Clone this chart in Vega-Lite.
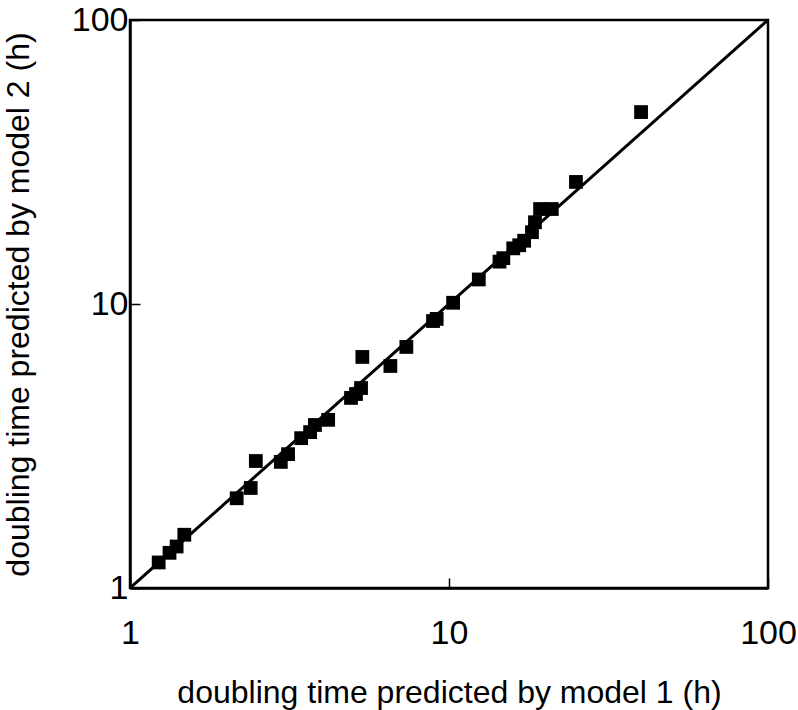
{
  "$schema": "https://vega.github.io/schema/vega-lite/v6.json",
  "width": 638,
  "height": 568,
  "autosize": "none",
  "padding": {"left": 130, "top": 20, "right": 30, "bottom": 122},
  "background": "white",
  "config": {
    "view": {"stroke": "black", "strokeWidth": 2.5},
    "axis": {
      "labelFont": "Liberation Sans",
      "titleFont": "Liberation Sans",
      "labelFontSize": 34,
      "titleFontSize": 32,
      "labelColor": "black",
      "titleColor": "black",
      "titleFontWeight": "normal",
      "domainColor": "black",
      "domainWidth": 2.5,
      "tickColor": "black",
      "tickWidth": 1.5,
      "grid": false
    }
  },
  "datasets": {
    "pts": [
      {"m1": 1.23, "m2": 1.23},
      {"m1": 1.33, "m2": 1.33},
      {"m1": 1.40, "m2": 1.40},
      {"m1": 1.48, "m2": 1.54},
      {"m1": 2.16, "m2": 2.07},
      {"m1": 2.39, "m2": 2.25},
      {"m1": 2.48, "m2": 2.80},
      {"m1": 2.97, "m2": 2.78},
      {"m1": 3.13, "m2": 2.96},
      {"m1": 3.44, "m2": 3.37},
      {"m1": 3.67, "m2": 3.54},
      {"m1": 3.80, "m2": 3.75},
      {"m1": 4.18, "m2": 3.91},
      {"m1": 4.93, "m2": 4.67},
      {"m1": 5.11, "m2": 4.82},
      {"m1": 5.30, "m2": 5.06},
      {"m1": 5.35, "m2": 6.51},
      {"m1": 6.55, "m2": 6.05},
      {"m1": 7.35, "m2": 7.06},
      {"m1": 8.91, "m2": 8.71},
      {"m1": 9.15, "m2": 8.86},
      {"m1": 10.3, "m2": 10.1},
      {"m1": 12.4, "m2": 12.2},
      {"m1": 14.4, "m2": 14.1},
      {"m1": 14.8, "m2": 14.5},
      {"m1": 15.9, "m2": 15.7},
      {"m1": 16.6, "m2": 16.1},
      {"m1": 17.2, "m2": 16.7},
      {"m1": 18.2, "m2": 17.9},
      {"m1": 18.6, "m2": 19.4},
      {"m1": 19.3, "m2": 21.6},
      {"m1": 21.0, "m2": 21.6},
      {"m1": 25.0, "m2": 26.9},
      {"m1": 40.0, "m2": 47.4}
    ],
    "diag": [
      {"m1": 1, "m2": 1},
      {"m1": 100, "m2": 100}
    ]
  },
  "layer": [
    {
      "data": {"name": "diag"},
      "mark": {"type": "line", "color": "black", "strokeWidth": 3, "clip": true},
      "encoding": {
        "x": {
          "field": "m1", "type": "quantitative",
          "scale": {"type": "log", "domain": [1, 100], "nice": false},
          "axis": {
            "title": "doubling time predicted by model 1 (h)",
            "values": [1, 10, 100],
            "format": "~g",
            "tickSize": -10,
            "labelPadding": 38,
            "labelFlush": false,
            "titleY": 104,
            "titleBaseline": "middle"
          }
        },
        "y": {
          "field": "m2", "type": "quantitative",
          "scale": {"type": "log", "domain": [1, 100], "nice": false},
          "axis": {
            "title": "doubling time predicted by model 2 (h)",
            "values": [1, 10, 100],
            "format": "~g",
            "tickSize": -10,
            "labelPadding": 12,
            "labelFlush": false,
            "titleX": -112,
            "titleBaseline": "middle"
          }
        }
      }
    },
    {
      "data": {"name": "pts"},
      "mark": {"type": "square", "color": "black", "opacity": 1, "size": 190},
      "encoding": {
        "x": {"field": "m1", "type": "quantitative"},
        "y": {"field": "m2", "type": "quantitative"}
      }
    }
  ]
}
